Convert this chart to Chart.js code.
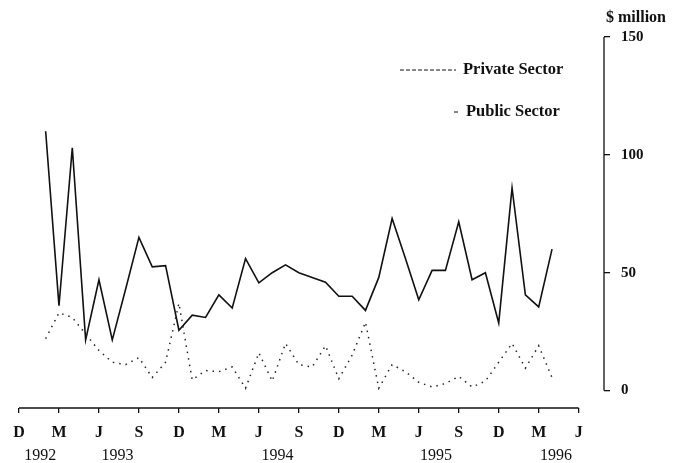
<!DOCTYPE html>
<html>
<head>
<meta charset="utf-8">
<script src="https://cdn.jsdelivr.net/npm/chart.js@4.4.1/dist/chart.umd.min.js"></script>
<style>
  html, body { margin: 0; padding: 0; background: #fff; }
  #cadre { width: 680px; height: 463px; }
</style>
</head>
<body>
<div id="cadre"><canvas id="graphique"></canvas></div>
<script>
// mois comptés depuis décembre 1992 (= 0) ; les séries commencent en février 1993
const premierMois = 2;

// secteur public, $ million, fév. 1993 -> avr. 1996
const secteurPublic = [
  110, 36, 103, 21.5, 47, 21.5, 43, 65, 52.5, 53, 25.6,
  32, 31, 40.6, 35, 56, 45.7, 50, 53.3, 50, 48, 46, 40,
  40, 34, 48, 73, 56, 38.5, 51, 51, 71.6, 47, 50, 28.7,
  86, 40.6, 35.5, 60
];

// secteur privé, $ million, fév. 1993 -> avr. 1996
const secteurPrive = [
  22, 33, 31, 24, 17, 12, 11, 14, 5.5, 12, 37,
  4.5, 8.5, 8, 10, 1, 16, 4, 20, 11, 10, 19, 5,
  15, 29, 1, 11, 8, 3.5, 1.5, 3, 6, 1.5, 4, 12,
  20, 9.5, 19, 5.5
];

// étiquettes de l'axe des x (un repère tous les trois mois)
const lettresMois = ['D', 'M', 'J', 'S', 'D', 'M', 'J', 'S', 'D', 'M', 'J', 'S', 'D', 'M', 'J'];
const annees = ['1992', '1993', '1994', '1995', '1996'];
const moisAnnees = [1.6, 7.4, 19.4, 31.3, 40.3];
const graduationsY = [0, 50, 100, 150];

const police = '"Liberation Serif", "DejaVu Serif", serif';
const noir = '#111';

const pointsPublic = secteurPublic.map((v, i) => ({ x: premierMois + i, y: v }));
const pointsPrive = secteurPrive.map((v, i) => ({ x: premierMois + i, y: v }));

// axes et légende dessinés à la main, comme sur l'original
const decor = {
  id: 'decor',
  afterDraw(chart) {
    const ctx = chart.ctx;
    const sx = chart.scales.x;
    const sy = chart.scales.y;
    const bas = chart.chartArea.bottom;
    const droite = chart.chartArea.right;
    ctx.save();
    ctx.strokeStyle = noir;
    ctx.lineWidth = 1.3;
    // axe horizontal
    ctx.beginPath();
    ctx.moveTo(sx.getPixelForValue(0), bas);
    ctx.lineTo(sx.getPixelForValue(42), bas);
    ctx.stroke();
    // axe vertical
    ctx.beginPath();
    ctx.moveTo(droite, sy.getPixelForValue(0));
    ctx.lineTo(droite, sy.getPixelForValue(150));
    ctx.stroke();

    ctx.fillStyle = noir;
    ctx.font = 'bold 16px ' + police;
    ctx.textBaseline = 'middle';
    ctx.textAlign = 'left';
    ctx.fillText('$ million', 606, 18);

    // légende
    ctx.lineWidth = 1;
    ctx.setLineDash([4, 2]);
    ctx.beginPath();
    ctx.moveTo(400, 70);
    ctx.lineTo(456, 70);
    ctx.stroke();
    ctx.setLineDash([]);
    ctx.beginPath();
    ctx.moveTo(454, 112);
    ctx.lineTo(458, 112);
    ctx.stroke();
    ctx.font = 'bold 16.5px ' + police;
    ctx.fillText('Private Sector', 463, 70);
    ctx.fillText('Public Sector', 466, 112);
    ctx.restore();
  }
};

const ctx = document.getElementById('graphique').getContext('2d');
new Chart(ctx, {
  type: 'line',
  data: {
    datasets: [
      {
        label: 'Private Sector',
        data: pointsPrive,
        borderColor: '#222',
        borderWidth: 1.5,
        borderDash: [1.5, 5],
        pointRadius: 0,
        fill: false,
        tension: 0
      },
      {
        label: 'Public Sector',
        data: pointsPublic,
        borderColor: noir,
        borderWidth: 1.6,
        pointRadius: 0,
        fill: false,
        tension: 0
      }
    ]
  },
  options: {
    responsive: true,
    maintainAspectRatio: false,
    animation: false,
    layout: { padding: { left: 19, top: 37, right: 0, bottom: 0 } },
    plugins: {
      legend: { display: false },
      tooltip: { enabled: false }
    },
    scales: {
      x: {
        type: 'linear',
        position: 'bottom',
        weight: 0,
        min: 0,
        max: 43.9,
        afterBuildTicks: axe => { axe.ticks = lettresMois.map((l, i) => ({ value: i * 3 })); },
        afterFit: axe => { axe.height = 29; },
        ticks: {
          autoSkip: false,
          maxRotation: 0,
          padding: 10,
          color: noir,
          font: { family: police, size: 16, weight: 'bold' },
          callback: (v, i) => lettresMois[i]
        },
        grid: { drawOnChartArea: false, drawTicks: true, tickLength: 5, color: noir, lineWidth: 1.3 },
        border: { display: false }
      },
      annees: {
        type: 'linear',
        position: 'bottom',
        weight: 1,
        min: 0,
        max: 43.9,
        afterBuildTicks: axe => { axe.ticks = moisAnnees.map(m => ({ value: m })); },
        afterFit: axe => { axe.height = 26; },
        ticks: {
          autoSkip: false,
          maxRotation: 0,
          padding: 1,
          color: noir,
          font: { family: police, size: 16 },
          callback: (v, i) => annees[i]
        },
        grid: { display: false },
        border: { display: false }
      },
      y: {
        position: 'right',
        min: -7.4,
        max: 150,
        afterBuildTicks: axe => { axe.ticks = graduationsY.map(v => ({ value: v })); },
        afterFit: axe => { axe.width = 76; },
        ticks: {
          padding: 11,
          color: noir,
          font: { family: police, size: 15, weight: 'bold' }
        },
        grid: { drawOnChartArea: false, drawTicks: true, tickLength: 6, color: noir, lineWidth: 1.3 },
        border: { display: false }
      }
    }
  },
  plugins: [decor]
});
</script>
</body>
</html>
